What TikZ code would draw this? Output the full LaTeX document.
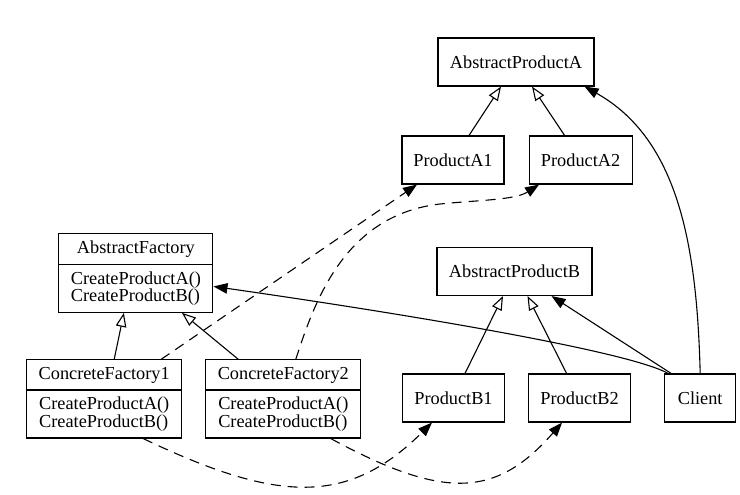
\documentclass[tikz,border=0pt]{standalone}
\usepackage{fontspec}
\setmainfont{Liberation Serif}
\usetikzlibrary{arrows.meta,positioning,shapes.multipart}

\begin{document}
\begin{tikzpicture}
[x=1pt,y=1pt,node distance=24pt,
every node/.style={font=\fontsize{18.3}{17.3}\selectfont},
box/.style={draw, line width=1.1pt, minimum height=48pt, inner sep=0pt},
cls/.style={draw, line width=1.1pt, rectangle split, rectangle split parts=2,
  align=left, inner xsep=10pt, inner ysep=6.5pt, minimum width=155pt, anchor=north},
inherit/.style={line width=1.1pt, -{Triangle[open,length=14pt,width=10.5pt]}},
uses/.style={line width=1.1pt, -{Triangle[length=14pt,width=10.5pt]}},
creates/.style={uses, dash pattern=on 10pt off 7pt}]
\useasboundingbox (0,0) rectangle (740,-495);

\node[box, minimum width=156pt] (apa) at (516,-62) {AbstractProductA};
\node[box, minimum width=102pt] (pa1) at (453,-160) {ProductA1};
\node[box, minimum width=103pt, right=24pt of pa1] (pa2) {ProductA2};
\draw[inherit] ([xshift=16pt]pa1.north) -- ([xshift=-15pt]apa.south);
\draw[inherit] ([xshift=-16pt]pa2.north) -- ([xshift=16pt]apa.south);

\node[box, minimum width=155pt] (apb) at (514.5,-271.5) {AbstractProductB};
\node[box, minimum width=102pt] (pb1) at (453.5,-398) {ProductB1};
\node[box, minimum width=102pt, right=23pt of pb1] (pb2) {ProductB2};
\node[box, minimum width=71pt, right=33pt of pb2] (client) {Client};
\draw[inherit] ([xshift=11.5pt]pb1.north) -- ([xshift=-11.5pt]apb.south);
\draw[inherit] ([xshift=-13pt]pb2.north) -- ([xshift=13pt]apb.south);

\node[cls, minimum width=154pt] (af) at (135.9,-233) {AbstractFactory
  \nodepart{two}CreateProductA()\\CreateProductB()};
\node[cls] (cf1) at (104.2,-359.3) {ConcreteFactory1
  \nodepart{two}CreateProductA()\\CreateProductB()};
\node[cls, right=23pt of cf1] (cf2) {ConcreteFactory2
  \nodepart{two}CreateProductA()\\CreateProductB()};
\draw[inherit] ([xshift=10pt]cf1.north) -- ([xshift=-12pt]af.south);
\draw[inherit] ([xshift=-45pt]cf2.north) -- ([xshift=46pt]af.south);

\draw[uses] (client.north) .. controls (697,-250) and (680,-140) .. ([xshift=-10pt]apa.south east);
\draw[uses] ([xshift=7pt]client.north west) -- ([xshift=37pt]apb.south);
\draw[uses] ([xshift=4pt]client.north west) .. controls (630,-352) and (420,-316) .. ([yshift=-13.5pt]af.east);

\draw[creates] ([xshift=57pt]cf1.north) -- ([xshift=-36pt]pa1.south);
\draw[creates] ([xshift=12.5pt]cf2.north) .. controls (315,-300) and (345,-215) .. (440,-204)
  .. controls (480,-200) and (515,-200) .. ([xshift=-41.5pt]pa2.south);
\draw[creates] ([xshift=39pt]cf1.south) .. controls (278,-503) and (348,-506) .. ([xshift=-21.5pt]pb1.south);
\draw[creates] ([xshift=47.5pt]cf2.south) .. controls (444,-500) and (496,-498) .. ([xshift=-17.5pt]pb2.south);
\end{tikzpicture}
\end{document}
